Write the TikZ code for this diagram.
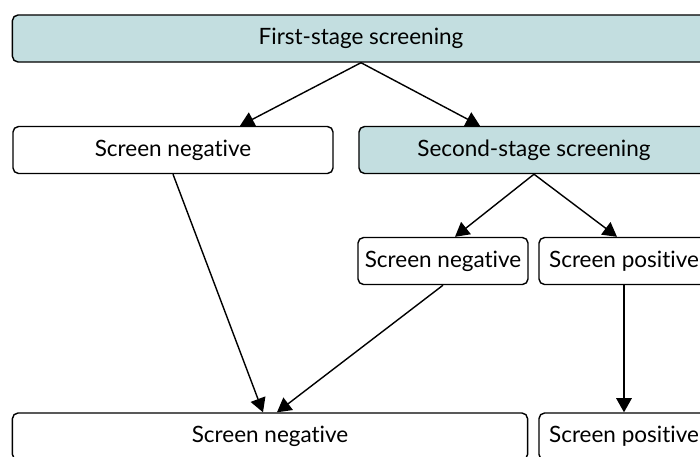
\documentclass[tikz,border=0pt]{standalone}
\usepackage{fontspec}
\setmainfont{Lato}[Ligatures=NoCommon]
\usetikzlibrary{arrows.meta,calc}
\definecolor{stagefill}{RGB}{195,222,224}
\begin{document}
\begin{tikzpicture}[x=0.025cm,y=-0.025cm,>={Triangle[length=10pt,width=11pt]},
		box/.style={draw,line width=1pt,rounded corners=4pt,minimum height=1.175cm,inner sep=0pt,font=\fontsize{16}{19}\selectfont},
		stage/.style={box,fill=stagefill}]
		\useasboundingbox (0,0) rectangle (700,456);
		\clip (0,0) rectangle (700,456);
		% boxes
		\node[stage,minimum width=17.425cm] (first) at (361,38.5) {First-stage screening};
		\node[box,minimum width=8cm] (neg) at (173,150) {Screen negative};
		\node[stage,minimum width=8.75cm] (second) at (534,150) {Second-stage screening};
		\node[box,minimum width=4.25cm] (neg2) at (443,261) {Screen negative};
		\node[box,minimum width=4.25cm] (pos2) at (624,261) {Screen positive};
		\node[box,minimum width=12.875cm] (allneg) at (270,436.5) {Screen negative};
		\node[box,minimum width=4.25cm] (allpos) at (624,436.5) {Screen positive};
		% arrows
		\draw[->,line width=1pt] (first.south) -- ($(neg.north)+(67,0)$);
		\draw[->,line width=1pt] (first.south) -- ($(second.north)+(-54,0)$);
		\draw[->,line width=1pt] (second.south) -- ($(neg2.north)+(12,0)$);
		\draw[->,line width=1pt] (second.south) -- ($(pos2.north)+(-7,0)$);
		\draw[->,line width=1pt] (neg.south) -- ($(allneg.north)+(-7,0)$);
		\draw[->,line width=1pt] (neg2.south) -- ($(allneg.north)+(7,0)$);
		\draw[->,line width=1pt] (pos2.south) -- (allpos.north);
	\end{tikzpicture}
\end{document}
